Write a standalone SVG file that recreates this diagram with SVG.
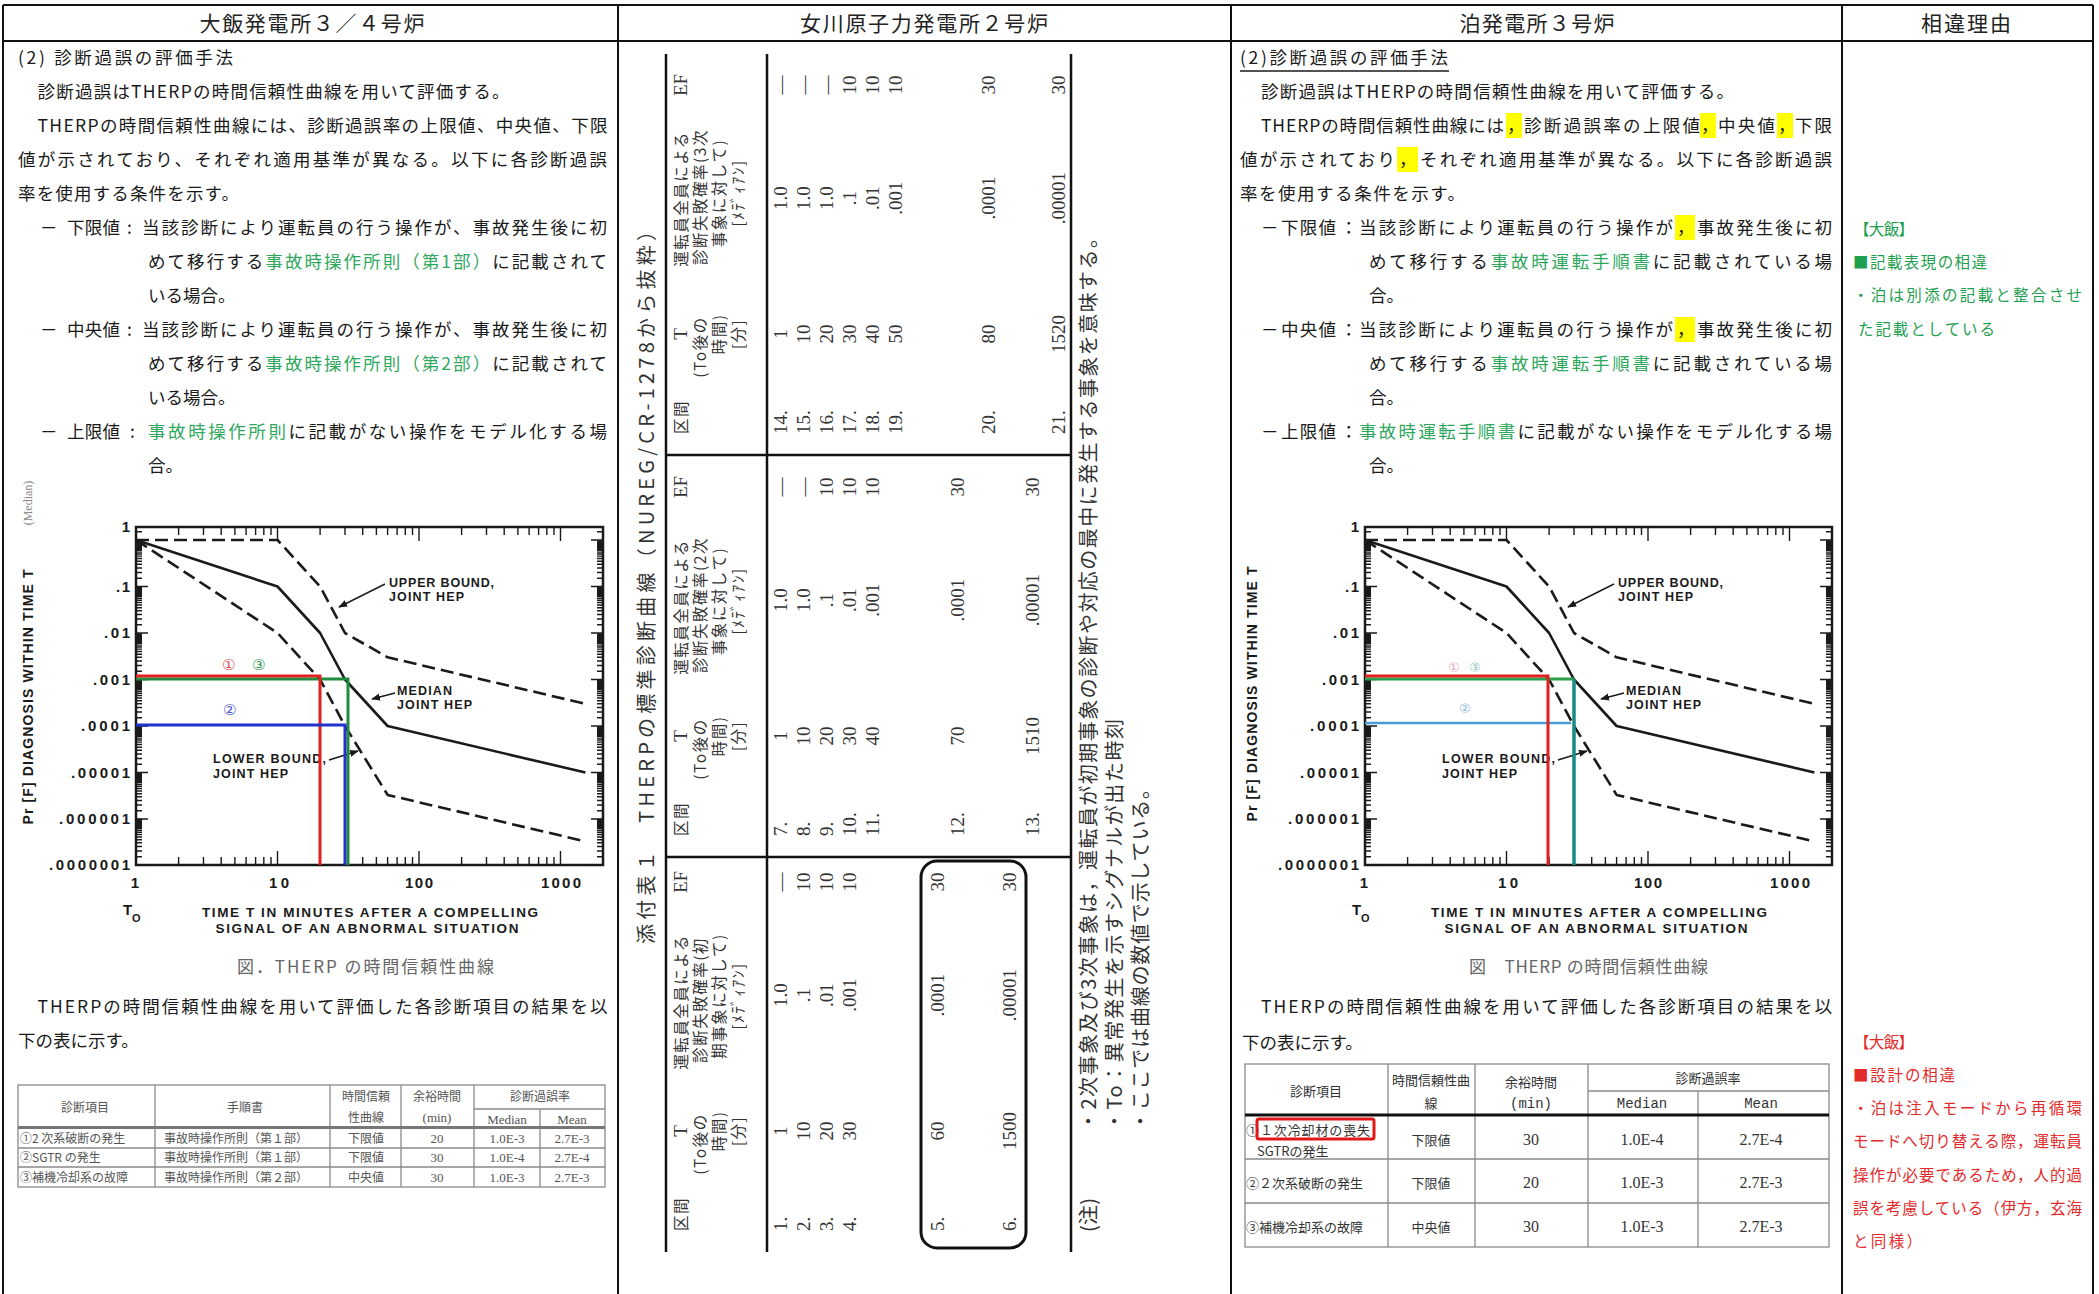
<svg xmlns="http://www.w3.org/2000/svg" width="2099" height="1294" viewBox="0 0 2099 1294">
<style>
.body{font-family:"Noto Sans CJK JP","Noto Sans",sans-serif;font-size:17.5px;fill:#1a1a1a;}
.grn{fill:#2fa85e;}
.hdr{font-family:"Noto Sans CJK JP",sans-serif;font-size:21px;fill:#222;text-anchor:middle;}
.ax{font-family:"Liberation Sans",Arial,sans-serif;font-weight:bold;fill:#1a1a1a;}
.ylab{font-size:15px;text-anchor:end;}
.xlab{font-size:15px;text-anchor:middle;}
.ann{font-size:12.5px;}
.frame{fill:none;stroke:#1a1a1a;stroke-width:2.5;}
.tick{fill:none;stroke:#1a1a1a;stroke-width:1.4;}
.crv{fill:none;stroke:#1a1a1a;stroke-width:2.6;stroke-linejoin:round;}
.dash{stroke-dasharray:13 6;}
.ptr{fill:none;stroke:#1a1a1a;stroke-width:1.5;marker-end:url(#ah);}
.grid{stroke:#111;stroke-width:2.5;fill:none;}
.border{stroke:#111;stroke-width:2;fill:none;}
.tbl{stroke:#8a8a8a;stroke-width:1.3;fill:none;}
.t1{font-family:"Noto Sans CJK JP",sans-serif;font-size:12px;fill:#555;text-anchor:middle;}
.t1n{font-family:"Liberation Serif",serif;font-size:13px;fill:#555;text-anchor:middle;}
.t3{font-family:"Noto Sans CJK JP",sans-serif;font-size:13px;fill:#333;text-anchor:middle;}
.t3n{font-family:"Liberation Serif",serif;font-size:16px;fill:#333;text-anchor:middle;}
.mono{font-family:"Liberation Mono",monospace;font-size:14px;fill:#333;text-anchor:middle;}
.mid{font-family:"Liberation Serif","Noto Sans CJK JP",serif;font-size:19px;fill:#333;dominant-baseline:central;}
.midj{font-family:"Noto Sans CJK JP",sans-serif;font-size:15.5px;fill:#333;dominant-baseline:central;letter-spacing:1.5px;}
.note{font-family:"Noto Sans CJK JP",sans-serif;font-size:20px;fill:#333;dominant-baseline:central;}
.c{text-anchor:middle;}
.hl{fill:#ffff00;}
.g4{font-family:"Noto Sans CJK JP",sans-serif;font-size:15.5px;fill:#1ea050;}
.r4{font-family:"Noto Sans CJK JP",sans-serif;font-size:15.5px;fill:#e32b2b;}
.cap{font-family:"Noto Sans CJK JP",sans-serif;font-size:17px;fill:#666;}
</style>
<defs>
<marker id="ah" viewBox="0 0 10 10" refX="9" refY="5" markerWidth="6" markerHeight="6" orient="auto"><path d="M0,1L10,5L0,9z" fill="#1a1a1a"/></marker>
<path id="ytick" class="tick" d="M0,0h12M0,-8.2h6M0,-14h6M0,-18.5h6M0,-22.2h6M0,-25.3h6M0,-28h6M0,-30.4h6M0,-32.5h6M0,-34.4h6M0,-36.2h6M0,-37.8h6M0,-39.3h6M0,-40.7h6M0,-42h6M0,-43.2h6M0,-44.4h6M0,-45.5h6"/>
<path id="xtick" class="tick" d="M42.6,0v8M67.5,0v8M85.2,0v8M98.9,0v8M110.1,0v8M119.6,0v8M127.8,0v8M135,0v8M141.5,0v14"/>
</defs>
<rect width="2099" height="1294" fill="#fff"/>

<!-- outer table grid -->
<g id="page-grid">
<path class="border" d="M3,5H2093M3,41H2093M3,5V1294M618,5V1294M1231,5V1294M1842,5V1294M2093,5V1294"/>
<text class="hdr" x="312" y="31" textLength="225">大飯発電所３／４号炉</text>
<text class="hdr" x="924" y="31" textLength="248">女川原子力発電所２号炉</text>
<text class="hdr" x="1537" y="31" textLength="155">泊発電所３号炉</text>
<text class="hdr" x="1966" y="31" textLength="90">相違理由</text>
</g>

<!-- column 1 text -->
<g id="ohi-text">
<text class="body" x="18" y="64" textLength="215">(2) 診断過誤の評価手法</text>
<text class="body" x="37.5" y="98" textLength="472">診断過誤はTHERPの時間信頼性曲線を用いて評価する。</text>
<text class="body" x="37.5" y="132" textLength="570">THERPの時間信頼性曲線には、診断過誤率の上限値、中央値、下限</text>
<text class="body" x="18" y="166" textLength="589">値が示されており、それぞれ適用基準が異なる。以下に各診断過誤</text>
<text class="body" x="18" y="200" textLength="221">率を使用する条件を示す。</text>
<text class="body" x="40" y="234">－</text><text class="body" x="67" y="234" textLength="53">下限値</text><text class="body" x="127" y="234">:</text>
<text class="body" x="142" y="234" textLength="465">当該診断により運転員の行う操作が、事故発生後に初</text>
<text class="body" x="148" y="268" textLength="459">めて移行する<tspan class="grn">事故時操作所則（第1部）</tspan>に記載されて</text>
<text class="body" x="148" y="302">いる場合。</text>
<text class="body" x="40" y="336">－</text><text class="body" x="67" y="336" textLength="53">中央値</text><text class="body" x="127" y="336">:</text>
<text class="body" x="142" y="336" textLength="465">当該診断により運転員の行う操作が、事故発生後に初</text>
<text class="body" x="148" y="370" textLength="459">めて移行する<tspan class="grn">事故時操作所則（第2部）</tspan>に記載されて</text>
<text class="body" x="148" y="404">いる場合。</text>
<text class="body" x="40" y="438">－</text><text class="body" x="67" y="438" textLength="53">上限値</text><text class="body" x="130" y="438">:</text>
<text class="body" x="148" y="438" textLength="459"><tspan class="grn">事故時操作所則</tspan>に記載がない操作をモデル化する場</text>
<text class="body" x="148" y="472">合。</text>
</g>

<!-- column 1 chart -->
<g id="ohi-chart">
<text font-family="Liberation Serif,serif" font-size="12" fill="#888" text-anchor="middle" transform="translate(32,503) rotate(-90)">(Median)</text>
<text class="ax" font-size="14" text-anchor="middle" textLength="255" transform="translate(33,697) rotate(-90)">Pr [F] DIAGNOSIS WITHIN TIME T</text>
<rect class="frame" x="136" y="527" width="467" height="338"/>
<path class="tick" d="M136,540h12M136,531.8h6M603,540h-12M603,531.8h-6"/>
<use href="#ytick" x="136" y="586.5"/><use href="#ytick" x="136" y="633"/><use href="#ytick" x="136" y="679.5"/><use href="#ytick" x="136" y="726"/><use href="#ytick" x="136" y="772.5"/><use href="#ytick" x="136" y="819"/><use href="#ytick" x="136" y="865"/>
<use href="#ytick" transform="translate(603,586.5) scale(-1,1)"/><use href="#ytick" transform="translate(603,633) scale(-1,1)"/><use href="#ytick" transform="translate(603,679.5) scale(-1,1)"/><use href="#ytick" transform="translate(603,726) scale(-1,1)"/><use href="#ytick" transform="translate(603,772.5) scale(-1,1)"/><use href="#ytick" transform="translate(603,819) scale(-1,1)"/><use href="#ytick" transform="translate(603,865) scale(-1,1)"/>
<use href="#xtick" x="136" y="527"/><use href="#xtick" x="277.5" y="527"/><use href="#xtick" x="419" y="527"/>
<use href="#xtick" transform="translate(136,865) scale(1,-1)"/><use href="#xtick" transform="translate(277.5,865) scale(1,-1)"/><use href="#xtick" transform="translate(419,865) scale(1,-1)"/>
<text class="ax ylab" x="130" y="532" textLength="9">1</text>
<text class="ax ylab" x="130" y="591.5" textLength="14">.1</text>
<text class="ax ylab" x="130" y="638" textLength="26">.01</text>
<text class="ax ylab" x="130" y="684.5" textLength="37">.001</text>
<text class="ax ylab" x="130" y="731" textLength="49">.0001</text>
<text class="ax ylab" x="130" y="777.5" textLength="59">.00001</text>
<text class="ax ylab" x="130" y="824" textLength="71">.000001</text>
<text class="ax ylab" x="130" y="870" textLength="81">.0000001</text>
<text class="ax xlab" x="135" y="888">1</text>
<text class="ax xlab" x="279" y="888" textLength="20">10</text>
<text class="ax xlab" x="419" y="888" textLength="28">100</text>
<text class="ax xlab" x="561" y="888" textLength="40">1000</text>
<text class="ax" font-size="15" x="123" y="915">T</text><text class="ax" font-size="11" x="132" y="922">O</text>
<text class="ax" font-size="13.5" text-anchor="middle" x="370" y="917" textLength="336">TIME T IN MINUTES AFTER A COMPELLING</text>
<text class="ax" font-size="13.5" text-anchor="middle" x="367" y="933" textLength="303">SIGNAL OF AN ABNORMAL SITUATION</text>
<path class="crv" d="M136,540L277.5,586.5L320.1,633L345,679.5L387.6,726L585.4,772.5"/>
<path class="crv dash" d="M136,540L277.5,540L320.1,586.5L345,633L387.6,657.3L585.4,703.8"/>
<path class="crv dash" d="M136,540L277.5,633L320.1,679.5L345,726L387.6,794.9L585.4,841.4"/>
<text class="ax ann" x="389" y="587" textLength="105">UPPER BOUND,</text>
<text class="ax ann" x="389" y="601" textLength="75">JOINT HEP</text>
<path class="ptr" d="M385,584L339,607"/>
<text class="ax ann" x="397" y="695" textLength="55">MEDIAN</text>
<text class="ax ann" x="397" y="709" textLength="75">JOINT HEP</text>
<path class="ptr" d="M395,693L372,699"/>
<text class="ax ann" x="213" y="763" textLength="113">LOWER BOUND,</text>
<text class="ax ann" x="213" y="778" textLength="75">JOINT HEP</text>
<path class="ptr" d="M329,760L358,751"/>
<path fill="none" stroke="#1e8c3c" stroke-width="3" d="M136,679H348V865"/>
<path fill="none" stroke="#e02020" stroke-width="3" d="M136,676H320V865"/>
<path fill="none" stroke="#2233cc" stroke-width="3" d="M136,725H345V865"/>
<text font-family="DejaVu Sans,sans-serif" font-size="15" fill="#e05050" x="222" y="670">①</text>
<text font-family="DejaVu Sans,sans-serif" font-size="15" fill="#3a9a5a" x="252" y="670">③</text>
<text font-family="DejaVu Sans,sans-serif" font-size="15" fill="#4a5ad0" x="223" y="715">②</text>
<text class="cap" x="237" y="973" textLength="257">図．THERP の時間信頼性曲線</text>
</g>

<!-- column 1 results -->
<g id="ohi-results">
<text class="body" x="37.5" y="1013" textLength="570">THERPの時間信頼性曲線を用いて評価した各診断項目の結果を以</text>
<text class="body" x="18" y="1047">下の表に示す。</text>
<rect class="tbl" x="18" y="1085" width="587" height="102"/>
<path class="tbl" d="M155,1085V1187M330,1085V1187M401,1085V1187M474,1085V1187M540,1109V1187M474,1109H605M18,1148H605M18,1167H605"/>
<path stroke="#777" stroke-width="3" d="M18,1127.5H605"/>
<text class="t1" x="85" y="1112">診断項目</text>
<text class="t1" x="245" y="1112">手順書</text>
<text class="t1" x="366" y="1101">時間信頼</text><text class="t1" x="366" y="1122">性曲線</text>
<text class="t1" x="437" y="1101">余裕時間</text><text class="t1n" x="437" y="1122">(min)</text>
<text class="t1" x="540" y="1101">診断過誤率</text>
<text class="t1n" x="507" y="1124">Median</text><text class="t1n" x="572" y="1124">Mean</text>
<text class="t1" x="20" y="1143" style="text-anchor:start">①2 次系破断の発生</text>
<text class="t1" x="20" y="1162" style="text-anchor:start">②SGTR の発生</text>
<text class="t1" x="20" y="1182" style="text-anchor:start">③補機冷却系の故障</text>
<text class="t1" x="164" y="1143" style="text-anchor:start">事故時操作所則（第１部）</text>
<text class="t1" x="164" y="1162" style="text-anchor:start">事故時操作所則（第１部）</text>
<text class="t1" x="164" y="1182" style="text-anchor:start">事故時操作所則（第２部）</text>
<text class="t1" x="366" y="1143">下限値</text><text class="t1" x="366" y="1162">下限値</text><text class="t1" x="366" y="1182">中央値</text>
<text class="t1n" x="437" y="1143">20</text><text class="t1n" x="437" y="1162">30</text><text class="t1n" x="437" y="1182">30</text>
<text class="t1n" x="507" y="1143">1.0E-3</text><text class="t1n" x="507" y="1162">1.0E-4</text><text class="t1n" x="507" y="1182">1.0E-3</text>
<text class="t1n" x="572" y="1143">2.7E-3</text><text class="t1n" x="572" y="1162">2.7E-4</text><text class="t1n" x="572" y="1182">2.7E-3</text>
</g>

<!-- column 2: rotated NUREG table -->
<g id="onagawa-table">
<path class="grid" d="M666,54V1252M767,54V1252M1071,54V1252M666,455H1071M666,857H1071"/>
<rect x="921" y="861" width="105" height="387" rx="16" fill="none" stroke="#111" stroke-width="3"/>
<g transform="translate(0,1294) rotate(-90)">
<text class="note" x="350" y="645" textLength="723">添付表１　THERPの標準診断曲線（NUREG/CR-1278から抜粋）</text>
<text class="note" x="62" y="1087" textLength="34">(注)</text>
<text class="note" x="163" y="1087" textLength="903">・2次事象及び3次事象は，運転員が初期事象の診断や対応の最中に発生する事象を意味する。</text>
<text class="note" x="163" y="1113" textLength="412">・To：異常発生を示すシグナルが出た時刻</text>
<text class="note" x="163" y="1139" textLength="352">・ここでは曲線の数値で示している。</text>
<!-- group A -->
<text class="midj" x="63" y="680">区間</text>
<text class="mid c" x="163" y="680">T</text><text class="midj c" x="150" y="699">(To後の</text><text class="midj c" x="163" y="718">時間)</text><text class="midj c" x="163" y="737">[分]</text>
<text class="midj c" x="292" y="680">運転員全員による</text><text class="midj c" x="294" y="699">診断失敗確率(初</text><text class="midj c" x="298" y="718">期事象に対して)</text><text class="midj c" x="298" y="737">[ﾒﾃﾞｨｱﾝ]</text>
<text class="mid c" x="412" y="680">EF</text>
<text class="mid" x="63" y="780">1.</text><text class="mid" x="63" y="803">2.</text><text class="mid" x="63" y="826">3.</text><text class="mid" x="63" y="849">4.</text><text class="mid" x="63" y="937">5.</text><text class="mid" x="63" y="1009">6.</text>
<text class="mid c" x="163" y="780">1</text><text class="mid c" x="163" y="803">10</text><text class="mid c" x="163" y="826">20</text><text class="mid c" x="163" y="849">30</text><text class="mid c" x="163" y="937">60</text><text class="mid c" x="163" y="1009">1500</text>
<text class="mid c" x="299" y="780">1.0</text><text class="mid c" x="299" y="803">.1</text><text class="mid c" x="299" y="826">.01</text><text class="mid c" x="299" y="849">.001</text><text class="mid c" x="299" y="937">.0001</text><text class="mid c" x="299" y="1009">.00001</text>
<text class="mid c" x="412" y="780">—</text><text class="mid c" x="412" y="803">10</text><text class="mid c" x="412" y="826">10</text><text class="mid c" x="412" y="849">10</text><text class="mid c" x="412" y="937">30</text><text class="mid c" x="412" y="1009">30</text>
<!-- group B -->
<text class="midj" x="458" y="680">区間</text>
<text class="mid c" x="558" y="680">T</text><text class="midj c" x="545" y="699">(To後の</text><text class="midj c" x="558" y="718">時間)</text><text class="midj c" x="558" y="737">[分]</text>
<text class="midj c" x="687" y="680">運転員全員による</text><text class="midj c" x="689" y="699">診断失敗確率(2次</text><text class="midj c" x="693" y="718">事象に対して)</text><text class="midj c" x="693" y="737">[ﾒﾃﾞｨｱﾝ]</text>
<text class="mid c" x="807" y="680">EF</text>
<text class="mid" x="458" y="780">7.</text><text class="mid" x="458" y="803">8.</text><text class="mid" x="458" y="826">9.</text><text class="mid" x="458" y="849">10.</text><text class="mid" x="458" y="872">11.</text><text class="mid" x="458" y="957">12.</text><text class="mid" x="458" y="1032">13.</text>
<text class="mid c" x="558" y="780">1</text><text class="mid c" x="558" y="803">10</text><text class="mid c" x="558" y="826">20</text><text class="mid c" x="558" y="849">30</text><text class="mid c" x="558" y="872">40</text><text class="mid c" x="558" y="957">70</text><text class="mid c" x="558" y="1032">1510</text>
<text class="mid c" x="694" y="780">1.0</text><text class="mid c" x="694" y="803">1.0</text><text class="mid c" x="694" y="826">.1</text><text class="mid c" x="694" y="849">.01</text><text class="mid c" x="694" y="872">.001</text><text class="mid c" x="694" y="957">.0001</text><text class="mid c" x="694" y="1032">.00001</text>
<text class="mid c" x="807" y="780">—</text><text class="mid c" x="807" y="803">—</text><text class="mid c" x="807" y="826">10</text><text class="mid c" x="807" y="849">10</text><text class="mid c" x="807" y="872">10</text><text class="mid c" x="807" y="957">30</text><text class="mid c" x="807" y="1032">30</text>
<!-- group C -->
<text class="midj" x="860" y="680">区間</text>
<text class="mid c" x="960" y="680">T</text><text class="midj c" x="947" y="699">(To後の</text><text class="midj c" x="960" y="718">時間)</text><text class="midj c" x="960" y="737">[分]</text>
<text class="midj c" x="1095" y="680">運転員全員による</text><text class="midj c" x="1097" y="699">診断失敗確率(3次</text><text class="midj c" x="1101" y="718">事象に対して)</text><text class="midj c" x="1101" y="737">[ﾒﾃﾞｨｱﾝ]</text>
<text class="mid c" x="1209" y="680">EF</text>
<text class="mid" x="860" y="780">14.</text><text class="mid" x="860" y="803">15.</text><text class="mid" x="860" y="826">16.</text><text class="mid" x="860" y="849">17.</text><text class="mid" x="860" y="872">18.</text><text class="mid" x="860" y="895">19.</text><text class="mid" x="860" y="988">20.</text><text class="mid" x="860" y="1058">21.</text>
<text class="mid c" x="960" y="780">1</text><text class="mid c" x="960" y="803">10</text><text class="mid c" x="960" y="826">20</text><text class="mid c" x="960" y="849">30</text><text class="mid c" x="960" y="872">40</text><text class="mid c" x="960" y="895">50</text><text class="mid c" x="960" y="988">80</text><text class="mid c" x="960" y="1058">1520</text>
<text class="mid c" x="1096" y="780">1.0</text><text class="mid c" x="1096" y="803">1.0</text><text class="mid c" x="1096" y="826">1.0</text><text class="mid c" x="1096" y="849">.1</text><text class="mid c" x="1096" y="872">.01</text><text class="mid c" x="1096" y="895">.001</text><text class="mid c" x="1096" y="988">.0001</text><text class="mid c" x="1096" y="1058">.00001</text>
<text class="mid c" x="1209" y="780">—</text><text class="mid c" x="1209" y="803">—</text><text class="mid c" x="1209" y="826">—</text><text class="mid c" x="1209" y="849">10</text><text class="mid c" x="1209" y="872">10</text><text class="mid c" x="1209" y="895">10</text><text class="mid c" x="1209" y="988">30</text><text class="mid c" x="1209" y="1058">30</text>
</g>
</g>

<!-- column 3 text -->
<g id="tomari-text">
<rect class="hl" x="1506" y="113" width="16" height="25"/>
<rect class="hl" x="1700" y="113" width="16" height="25"/>
<rect class="hl" x="1777" y="113" width="16" height="25"/>
<rect class="hl" x="1397" y="147" width="21" height="25"/>
<rect class="hl" x="1675" y="215" width="20" height="25"/>
<rect class="hl" x="1675" y="317" width="20" height="25"/>
<text class="body" x="1240" y="64" textLength="208">(2)診断過誤の評価手法</text>
<path stroke="#1a1a1a" stroke-width="1.5" d="M1240,71H1449"/>
<text class="body" x="1261" y="98" textLength="473">診断過誤はTHERPの時間信頼性曲線を用いて評価する。</text>
<text class="body" x="1261" y="132" textLength="243">THERPの時間信頼性曲線には</text>
<text class="body" x="1507" y="132">，</text>
<text class="body" x="1524" y="132" textLength="176">診断過誤率の上限値</text>
<text class="body" x="1701" y="132">，</text>
<text class="body" x="1718" y="132" textLength="57">中央値</text>
<text class="body" x="1778" y="132">，</text>
<text class="body" x="1795" y="132" textLength="37">下限</text>
<text class="body" x="1240" y="166" textLength="155">値が示されており</text>
<text class="body" x="1399" y="166">，</text>
<text class="body" x="1420" y="166" textLength="412">それぞれ適用基準が異なる。以下に各診断過誤</text>
<text class="body" x="1240" y="200" textLength="225">率を使用する条件を示す。</text>
<text class="body" x="1261" y="234">－</text><text class="body" x="1281" y="234" textLength="55">下限値</text><text class="body" x="1340" y="234">：</text>
<text class="body" x="1359" y="234" textLength="314">当該診断により運転員の行う操作が</text>
<text class="body" x="1677" y="234">，</text>
<text class="body" x="1697" y="234" textLength="135">事故発生後に初</text>
<text class="body" x="1369" y="268" textLength="463">めて移行する<tspan class="grn">事故時運転手順書</tspan>に記載されている場</text>
<text class="body" x="1369" y="302">合。</text>
<text class="body" x="1261" y="336">－</text><text class="body" x="1281" y="336" textLength="55">中央値</text><text class="body" x="1340" y="336">：</text>
<text class="body" x="1359" y="336" textLength="314">当該診断により運転員の行う操作が</text>
<text class="body" x="1677" y="336">，</text>
<text class="body" x="1697" y="336" textLength="135">事故発生後に初</text>
<text class="body" x="1369" y="370" textLength="463">めて移行する<tspan class="grn">事故時運転手順書</tspan>に記載されている場</text>
<text class="body" x="1369" y="404">合。</text>
<text class="body" x="1261" y="438">－</text><text class="body" x="1281" y="438" textLength="55">上限値</text><text class="body" x="1340" y="438">：</text>
<text class="body" x="1359" y="438" textLength="473"><tspan class="grn">事故時運転手順書</tspan>に記載がない操作をモデル化する場</text>
<text class="body" x="1369" y="472">合。</text>
</g>

<!-- column 3 chart -->
<g id="tomari-chart">
<g transform="translate(1229,0)">
<text class="ax" font-size="14" text-anchor="middle" textLength="255" transform="translate(28,694) rotate(-90)">Pr [F] DIAGNOSIS WITHIN TIME T</text>
<rect class="frame" x="136" y="527" width="467" height="338"/>
<path class="tick" d="M136,540h12M136,531.8h6M603,540h-12M603,531.8h-6"/>
<use href="#ytick" x="136" y="586.5"/><use href="#ytick" x="136" y="633"/><use href="#ytick" x="136" y="679.5"/><use href="#ytick" x="136" y="726"/><use href="#ytick" x="136" y="772.5"/><use href="#ytick" x="136" y="819"/><use href="#ytick" x="136" y="865"/>
<use href="#ytick" transform="translate(603,586.5) scale(-1,1)"/><use href="#ytick" transform="translate(603,633) scale(-1,1)"/><use href="#ytick" transform="translate(603,679.5) scale(-1,1)"/><use href="#ytick" transform="translate(603,726) scale(-1,1)"/><use href="#ytick" transform="translate(603,772.5) scale(-1,1)"/><use href="#ytick" transform="translate(603,819) scale(-1,1)"/><use href="#ytick" transform="translate(603,865) scale(-1,1)"/>
<use href="#xtick" x="136" y="527"/><use href="#xtick" x="277.5" y="527"/><use href="#xtick" x="419" y="527"/>
<use href="#xtick" transform="translate(136,865) scale(1,-1)"/><use href="#xtick" transform="translate(277.5,865) scale(1,-1)"/><use href="#xtick" transform="translate(419,865) scale(1,-1)"/>
<text class="ax ylab" x="130" y="532" textLength="9">1</text>
<text class="ax ylab" x="130" y="591.5" textLength="14">.1</text>
<text class="ax ylab" x="130" y="638" textLength="26">.01</text>
<text class="ax ylab" x="130" y="684.5" textLength="37">.001</text>
<text class="ax ylab" x="130" y="731" textLength="49">.0001</text>
<text class="ax ylab" x="130" y="777.5" textLength="59">.00001</text>
<text class="ax ylab" x="130" y="824" textLength="71">.000001</text>
<text class="ax ylab" x="130" y="870" textLength="81">.0000001</text>
<text class="ax xlab" x="135" y="888">1</text>
<text class="ax xlab" x="279" y="888" textLength="20">10</text>
<text class="ax xlab" x="419" y="888" textLength="28">100</text>
<text class="ax xlab" x="561" y="888" textLength="40">1000</text>
<text class="ax" font-size="15" x="123" y="915">T</text><text class="ax" font-size="11" x="132" y="922">O</text>
<text class="ax" font-size="13.5" text-anchor="middle" x="370" y="917" textLength="336">TIME T IN MINUTES AFTER A COMPELLING</text>
<text class="ax" font-size="13.5" text-anchor="middle" x="367" y="933" textLength="303">SIGNAL OF AN ABNORMAL SITUATION</text>
<path class="crv" d="M136,540L277.5,586.5L320.1,633L345,679.5L387.6,726L585.4,772.5"/>
<path class="crv dash" d="M136,540L277.5,540L320.1,586.5L345,633L387.6,657.3L585.4,703.8"/>
<path class="crv dash" d="M136,540L277.5,633L320.1,679.5L345,726L387.6,794.9L585.4,841.4"/>
<text class="ax ann" x="389" y="587" textLength="105">UPPER BOUND,</text>
<text class="ax ann" x="389" y="601" textLength="75">JOINT HEP</text>
<path class="ptr" d="M385,584L339,607"/>
<text class="ax ann" x="397" y="695" textLength="55">MEDIAN</text>
<text class="ax ann" x="397" y="709" textLength="75">JOINT HEP</text>
<path class="ptr" d="M395,693L372,699"/>
<text class="ax ann" x="213" y="763" textLength="113">LOWER BOUND,</text>
<text class="ax ann" x="213" y="778" textLength="75">JOINT HEP</text>
<path class="ptr" d="M329,760L358,751"/>
<path fill="none" stroke="#2aa04a" stroke-width="3" d="M136,679H345"/>
<path fill="none" stroke="#4a9ad8" stroke-width="2.5" d="M136,723H342"/>
<path fill="none" stroke="#178a86" stroke-width="3.5" d="M345,679V865"/>
<path fill="none" stroke="#e02020" stroke-width="3" d="M136,676H319V865"/>
<text font-family="DejaVu Sans,sans-serif" font-size="13" fill="#e8a0b0" x="219" y="672">①</text>
<text font-family="DejaVu Sans,sans-serif" font-size="13" fill="#90c8c0" x="240" y="672">③</text>
<text font-family="DejaVu Sans,sans-serif" font-size="13" fill="#8ab8e0" x="230" y="713">②</text>
</g>
<text class="cap" x="1469" y="973" textLength="239">図　THERP の時間信頼性曲線</text>
</g>

<!-- column 3 results -->
<g id="tomari-results">
<text class="body" x="1261" y="1013" textLength="571">THERPの時間信頼性曲線を用いて評価した各診断項目の結果を以</text>
<text class="body" x="1242" y="1049">下の表に示す。</text>
<rect class="tbl" x="1245" y="1064" width="584" height="183"/>
<path class="tbl" d="M1388,1064V1247M1475,1064V1247M1588,1064V1247M1698,1091V1247M1588,1091H1829M1245,1159H1829M1245,1203H1829"/>
<path stroke="#111" stroke-width="3" d="M1245,1115H1829"/>
<text class="t3" x="1316" y="1096">診断項目</text>
<text class="t3" x="1431" y="1085" font-size="12">時間信頼性曲</text><text class="t3" x="1431" y="1108" font-size="12">線</text>
<text class="t3" x="1531" y="1087" font-size="16">余裕時間</text><text class="mono" x="1531" y="1108" font-size="11">(min)</text>
<text class="t3" x="1708" y="1083" font-size="15">診断過誤率</text>
<text class="mono" x="1642" y="1108">Median</text><text class="mono" x="1761" y="1108">Mean</text>
<text class="t3" x="1246" y="1135" style="text-anchor:start">①</text>
<text class="t3" x="1260" y="1135" style="text-anchor:start" textLength="110">１次冷却材の喪失</text>
<rect x="1257" y="1119" width="117" height="20" rx="2" fill="none" stroke="#e01818" stroke-width="3"/>
<text class="t3" x="1257" y="1156" style="text-anchor:start">SGTRの発生</text>
<text class="t3" x="1246" y="1188" style="text-anchor:start">②２次系破断の発生</text>
<text class="t3" x="1246" y="1232" style="text-anchor:start">③補機冷却系の故障</text>
<text class="t3" x="1431" y="1145">下限値</text><text class="t3" x="1431" y="1188">下限値</text><text class="t3" x="1431" y="1232">中央値</text>
<text class="t3n" x="1531" y="1145">30</text><text class="t3n" x="1531" y="1188">20</text><text class="t3n" x="1531" y="1232">30</text>
<text class="t3n" x="1642" y="1145">1.0E-4</text><text class="t3n" x="1642" y="1188">1.0E-3</text><text class="t3n" x="1642" y="1232">1.0E-3</text>
<text class="t3n" x="1761" y="1145">2.7E-4</text><text class="t3n" x="1761" y="1188">2.7E-3</text><text class="t3n" x="1761" y="1232">2.7E-3</text>
</g>

<!-- column 4 -->
<g id="reasons">
<text class="g4" x="1854" y="235" textLength="60">【大飯】</text>
<text class="g4" x="1853" y="268" textLength="134">■記載表現の相違</text>
<text class="g4" x="1853" y="301" textLength="229">・泊は別添の記載と整合させ</text>
<text class="g4" x="1858" y="335" textLength="137">た記載としている</text>
<text class="r4" x="1854" y="1048" textLength="60">【大飯】</text>
<text class="r4" x="1853" y="1081" textLength="102">■設計の相違</text>
<text class="r4" x="1853" y="1114" textLength="229">・泊は注入モードから再循環</text>
<text class="r4" x="1853" y="1147" textLength="229">モードへ切り替える際，運転員</text>
<text class="r4" x="1853" y="1181" textLength="229">操作が必要であるため，人的過</text>
<text class="r4" x="1853" y="1214" textLength="229">誤を考慮している（伊方，玄海</text>
<text class="r4" x="1853" y="1247" textLength="69">と同様）</text>
</g>
</svg>
